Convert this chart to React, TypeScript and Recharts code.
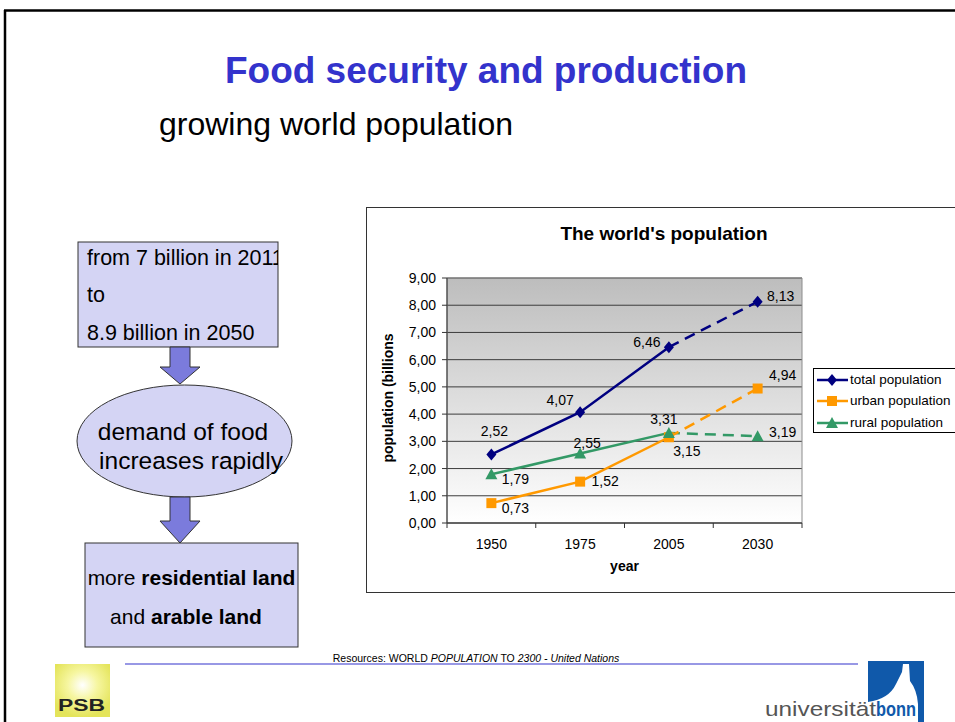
import React from 'react'
import {
  LineChart,
  Line,
  XAxis,
  YAxis,
  CartesianGrid,
  ReferenceArea,
  LabelList
} from 'recharts'

// chart values (billions)
const YEARS = ['1950', '1975', '2005', '2030']
const TOTAL = [2.52, 4.07, 6.46, 8.13]
const URBAN = [0.73, 1.52, 3.15, 4.94]
const RURAL = [1.79, 2.55, 3.31, 3.19]
const Y_TICKS = [0, 1, 2, 3, 4, 5, 6, 7, 8, 9]
// last observed year, the rest is projection (dashed)
const LAST_OBSERVED = '2005'

// where each value label sits relative to its point (dx, dy of label centre)
const LABEL_OFFSETS: Record<string, number[][]> = {
  total: [[3, -23], [-20, -12], [-22, -5], [23, -6]],
  urban: [[24, 5], [25, -1], [18, 14], [25, -14]],
  rural: [[24, 5], [7, -11], [-5, -14], [25, -4]]
}

const FONT = '"Liberation Sans", Arial, Helvetica, sans-serif'
const NAVY = '#000080'
const ORANGE = '#FF9900'
const GREEN = '#339966'
const LAVENDER = '#d4d4f4'

const CHART_W = 588
const CHART_H = 384
const MARGIN = { top: 70, right: 153, bottom: 39, left: 30 }
const Y_AXIS_W = 50
const PLOT_W = CHART_W - MARGIN.left - Y_AXIS_W - MARGIN.right
const PLOT_H = CHART_H - MARGIN.top - MARGIN.bottom - 30
const BAND = PLOT_W / YEARS.length

const obsIdx = YEARS.indexOf(LAST_OBSERVED)

const rows = YEARS.map((year, i) => ({
  year,
  total: TOTAL[i],
  urban: URBAN[i],
  rural: RURAL[i],
  totalObs: i <= obsIdx ? TOTAL[i] : null,
  totalProj: i >= obsIdx ? TOTAL[i] : null,
  urbanObs: i <= obsIdx ? URBAN[i] : null,
  urbanProj: i >= obsIdx ? URBAN[i] : null,
  ruralObs: i <= obsIdx ? RURAL[i] : null,
  ruralProj: i >= obsIdx ? RURAL[i] : null
}))

const fmt = (v: number) => v.toFixed(2).replace('.', ',')

function Marker({ shape, color, cx, cy }: { shape: string; color: string; cx: number; cy: number }) {
  if (shape === 'diamond') {
    return <path d={`M${cx},${cy - 6} L${cx + 5},${cy} L${cx},${cy + 6} L${cx - 5},${cy} Z`} fill={color} />
  }
  if (shape === 'square') {
    return <rect x={cx - 5} y={cy - 5} width={10} height={10} fill={color} />
  }
  return <path d={`M${cx},${cy - 6} L${cx + 6},${cy + 5} L${cx - 6},${cy + 5} Z`} fill={color} />
}

const makeDot = (shape: string, color: string) => (props: any) => {
  const { cx, cy, index } = props
  if (cx == null || cy == null) return <g key={`m-${shape}-${index}`} />
  return (
    <g key={`m-${shape}-${index}`}>
      <Marker shape={shape} color={color} cx={cx} cy={cy} />
    </g>
  )
}

const makeLabel = (key: string, values: number[]) => (props: any) => {
  const { x, y, value } = props
  if (value == null) return null
  const idx = props.index != null ? props.index : values.indexOf(value)
  const [dx, dy] = LABEL_OFFSETS[key][idx]
  return (
    <text x={x + dx} y={y + dy + 5} textAnchor="middle" fontSize={14} fontWeight="normal" fill="#000">
      {fmt(value)}
    </text>
  )
}

function YearTick(props: any) {
  const { x, y, payload, index } = props
  return (
    <g>
      <line x1={x - BAND / 2} x2={x - BAND / 2} y1={y - 5} y2={y} stroke="#333" />
      {index === YEARS.length - 1 && (
        <line x1={x + BAND / 2} x2={x + BAND / 2} y1={y - 5} y2={y} stroke="#333" />
      )}
      <text x={x} y={y + 21} textAnchor="middle" fontSize={14} fontWeight="normal" stroke="none" fill="#000">
        {payload.value}
      </text>
    </g>
  )
}

const LEGEND = [
  { name: 'total population', color: NAVY, shape: 'diamond' },
  { name: 'urban population', color: ORANGE, shape: 'square' },
  { name: 'rural population', color: GREEN, shape: 'triangle' }
]

function SlideBackground() {
  return (
    <svg width={955} height={722} style={{ position: 'absolute', left: 0, top: 0 }}>
      <defs>
        <radialGradient id="psbGlow" cx="50%" cy="40%" r="60%">
          <stop offset="0%" stopColor="#ffffff" />
          <stop offset="45%" stopColor="#f6f6a0" />
          <stop offset="100%" stopColor="#e4e45a" />
        </radialGradient>
        <clipPath id="box1clip">
          <rect x={78} y={242} width={200} height={105} />
        </clipPath>
      </defs>

      {/* slide frame */}
      <line x1={4} y1={10.5} x2={955} y2={10.5} stroke="#000" strokeWidth={2.5} />
      <line x1={5} y1={10} x2={5} y2={722} stroke="#000" strokeWidth={2.5} />

      <text x={486} y={83} textAnchor="middle" fontSize={37} fontWeight="bold" fill="#3333CC">
        Food security and production
      </text>
      <text x={159} y={135} fontSize={32} fill="#000">
        growing world population
      </text>

      {/* flow chart on the left */}
      <rect x={78} y={242} width={200} height={105} fill={LAVENDER} stroke="#333" />
      <g clipPath="url(#box1clip)" fontSize={21.5} fill="#000">
        <text x={87} y={265}>from 7 billion in 2011</text>
        <text x={87} y={302}>to</text>
        <text x={87} y={340}>8.9 billion in 2050</text>
      </g>
      <path d="M170,347 L190,347 L190,367 L200,367 L180,384 L160,367 L170,367 Z" fill="#7b7bdc" stroke="#333" />

      <ellipse cx={184.5} cy={441} rx={107.5} ry={56} fill={LAVENDER} stroke="#333" />
      <text x={183} y={440} textAnchor="middle" fontSize={24.5} fill="#000">demand of food</text>
      <text x={191} y={469} textAnchor="middle" fontSize={24.5} fill="#000">increases rapidly</text>
      <path d="M170,497 L190,497 L190,521 L200,521 L180,543 L160,521 L170,521 Z" fill="#7b7bdc" stroke="#333" />

      <rect x={85} y={543} width={213} height={104} fill={LAVENDER} stroke="#333" />
      <text x={191.5} y={585} textAnchor="middle" fontSize={21} fill="#000">
        more <tspan fontWeight="bold">residential land</tspan>
      </text>
      <text x={186} y={624} textAnchor="middle" fontSize={21} fill="#000">
        and <tspan fontWeight="bold">arable land</tspan>
      </text>

      {/* footer */}
      <text x={476} y={662} textAnchor="middle" fontSize={10.5} fill="#000">
        Resources: WORLD <tspan fontStyle="italic">POPULATION</tspan> TO{' '}
        <tspan fontStyle="italic">2300 - United Nations</tspan>
      </text>
      <line x1={125} y1={664} x2={858} y2={664} stroke="#3333CC" strokeWidth={1.2} />

      <rect x={55} y={664} width={55} height={53} fill="url(#psbGlow)" />
      <text x={58} y={711} fontSize={16} fontWeight="bold" fill="#222" textLength={47} lengthAdjust="spacingAndGlyphs">
        PSB
      </text>

      <rect x={868} y={661} width={56} height={61} fill="#1059aa" />
      <path
        d="M903,664 L909,664 L910,681 Q917,690 918,704 L918,722 L868,722 L868,702 Q889,699 896,684 L902,672 Z"
        fill="#fff"
      />
      <text x={765} y={716} fontSize={21} fill="#555" textLength={111} lengthAdjust="spacingAndGlyphs">
        universität
      </text>
      <text x={876} y={716} fontSize={21} fontWeight="bold" fill="#1059aa" textLength={40} lengthAdjust="spacingAndGlyphs">
        bonn
      </text>
    </svg>
  )
}

const plotLeft = MARGIN.left + Y_AXIS_W

export default function App() {
  return (
    <div
      style={{
        position: 'absolute',
        left: 0,
        top: 0,
        width: 955,
        height: 722,
        overflow: 'hidden',
        background: '#fff',
        fontFamily: FONT
      }}
    >
      <SlideBackground />

      {/* chart frame */}
      <div
        style={{
          position: 'absolute',
          left: 366,
          top: 207,
          width: 640,
          height: CHART_H,
          border: '1px solid #333',
          background: '#fff'
        }}
      >
        <div
          style={{
            position: 'absolute',
            left: 97,
            top: 16,
            width: 400,
            textAlign: 'center',
            fontSize: 19,
            lineHeight: '19px',
            fontWeight: 'bold',
            color: '#000'
          }}
        >
          The world's population
        </div>

        <LineChart width={CHART_W} height={CHART_H} data={rows} margin={MARGIN}>
          <defs>
            <linearGradient id="plotBg" x1="0" y1="0" x2="0" y2="1">
              <stop offset="0%" stopColor="#bdbdbd" />
              <stop offset="100%" stopColor="#ffffff" />
            </linearGradient>
          </defs>
          <CartesianGrid vertical={false} stroke="#3c3c3c" fill="url(#plotBg)" fillOpacity={1} />
          <ReferenceArea y1={0} y2={9} fill="none" stroke="#8c8c8c" ifOverflow="visible" />
          <XAxis
            dataKey="year"
            scale="band"
            tick={<YearTick />}
            tickLine={false}
            tickSize={5}
            tickMargin={0}
            height={30}
            stroke="#555"
            strokeWidth={1.5}
            interval={0}
            label={{
              content: () => (
                <text
                  x={plotLeft + PLOT_W / 2}
                  y={MARGIN.top + PLOT_H + 48}
                  textAnchor="middle"
                  fontSize={14}
                  fontWeight="bold"
                  fill="#000"
                >
                  year
                </text>
              )
            }}
          />
          <YAxis
            domain={[0, 9]}
            ticks={Y_TICKS}
            interval={0}
            width={Y_AXIS_W}
            tickFormatter={fmt}
            tick={{ fontSize: 14, fill: '#000' }}
            tickSize={5}
            tickMargin={6}
            stroke="#333"
            label={{
              content: () => (
                <text
                  x={26}
                  y={190}
                  transform="rotate(-90, 26, 190)"
                  textAnchor="middle"
                  fontSize={14}
                  fontWeight="bold"
                  fill="#000"
                >
                  population (billions
                </text>
              )
            }}
          />

          <Line dataKey="ruralObs" stroke={GREEN} strokeWidth={2.5} dot={false} activeDot={false} isAnimationActive={false} />
          <Line dataKey="ruralProj" stroke={GREEN} strokeWidth={2.5} strokeDasharray="11 7" dot={false} activeDot={false} isAnimationActive={false} />
          <Line dataKey="urbanObs" stroke={ORANGE} strokeWidth={2.5} dot={false} activeDot={false} isAnimationActive={false} />
          <Line dataKey="urbanProj" stroke={ORANGE} strokeWidth={2.5} strokeDasharray="11 7" dot={false} activeDot={false} isAnimationActive={false} />
          <Line dataKey="totalObs" stroke={NAVY} strokeWidth={2.5} dot={false} activeDot={false} isAnimationActive={false} />
          <Line dataKey="totalProj" stroke={NAVY} strokeWidth={2.5} strokeDasharray="11 7" dot={false} activeDot={false} isAnimationActive={false} />

          {/* markers and value labels */}
          <Line dataKey="total" stroke="none" dot={makeDot('diamond', NAVY)} activeDot={false} isAnimationActive={false}>
            <LabelList dataKey="total" content={makeLabel('total', TOTAL)} />
          </Line>
          <Line dataKey="urban" stroke="none" dot={makeDot('square', ORANGE)} activeDot={false} isAnimationActive={false}>
            <LabelList dataKey="urban" content={makeLabel('urban', URBAN)} />
          </Line>
          <Line dataKey="rural" stroke="none" dot={makeDot('triangle', GREEN)} activeDot={false} isAnimationActive={false}>
            <LabelList dataKey="rural" content={makeLabel('rural', RURAL)} />
          </Line>
        </LineChart>

        {/* legend */}
        <div
          style={{
            position: 'absolute',
            left: 446,
            top: 160,
            width: 160,
            height: 63,
            border: '1px solid #000',
            background: '#fff'
          }}
        >
          {LEGEND.map((item, i) => (
            <div key={item.name} style={{ position: 'absolute', left: 3, top: 4 + i * 21.3, height: 14, whiteSpace: 'nowrap' }}>
              <svg width={31} height={14} style={{ position: 'absolute', left: 0, top: 0 }}>
                <line x1={0} y1={7} x2={31} y2={7} stroke={item.color} strokeWidth={2.5} />
                <Marker shape={item.shape} color={item.color} cx={15} cy={7} />
              </svg>
              <span style={{ position: 'absolute', left: 33, top: 0, fontSize: 13.5, lineHeight: '14px', color: '#000' }}>
                {item.name}
              </span>
            </div>
          ))}
        </div>
      </div>
    </div>
  )
}
